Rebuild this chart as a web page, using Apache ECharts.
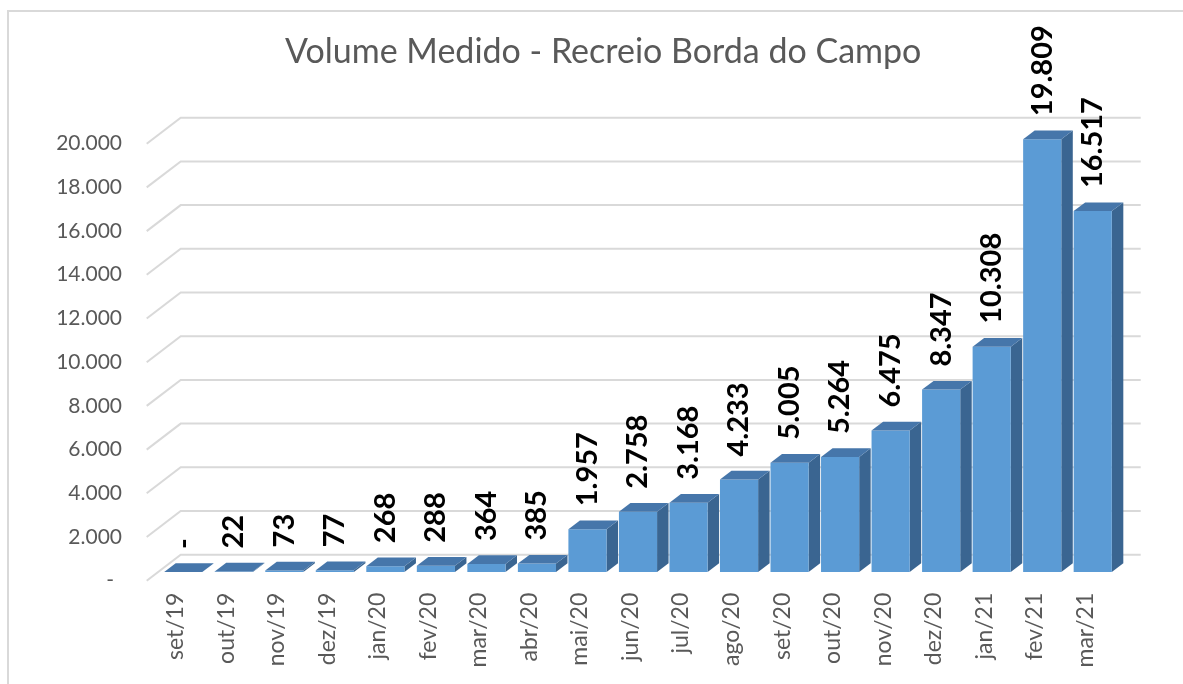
<!DOCTYPE html>
<html>
<head>
<meta charset="utf-8">
<script src="https://cdn.jsdelivr.net/npm/echarts@6/dist/echarts.min.js"></script>
<style>
html,body{margin:0;padding:0;background:#fff;}
#chart{width:1183px;height:684px;}
</style>
</head>
<body>
<div id="chart"></div>
<script>
const categories = ['set/19','out/19','nov/19','dez/19','jan/20','fev/20','mar/20','abr/20','mai/20','jun/20','jul/20','ago/20','set/20','out/20','nov/20','dez/20','jan/21','fev/21','mar/21'];
const volumes = [0,22,73,77,268,288,364,385,1957,2758,3168,4233,5005,5264,6475,8347,10308,19809,16517];
const yTicks = [0,2000,4000,6000,8000,10000,12000,14000,16000,18000,20000];
const titleText = 'Volume Medido - Recreio Borda do Campo';

const FONT = 'Lato, "Open Sans", sans-serif';
// 3D geometry (pixels)
const BAR_DX = 11.5, BAR_DY = 8.7;        // bar depth
const FRONT_DX = -11.3, FRONT_DY = 8.7;   // from bar plane to front plane
const BACK_DX = 22.7, BACK_DY = -17.3;    // from bar plane to back wall

function fmt(v){
  if (v === 0) return '-';
  return String(Math.round(v)).replace(/\B(?=(\d{3})+(?!\d))/g, '.');
}

const chart = echarts.init(document.getElementById('chart'), null, {renderer:'canvas'});

const option = {
  animation: false,
  backgroundColor: '#ffffff',
  title: {
    text: titleText,
    left: 280,
    top: 30,
    textStyle: {fontFamily: FONT, fontSize: 34, fontWeight: 'normal', color: '#595959'}
  },
  graphic: [{
    type: 'rect', silent: true, z: -10,
    shape: {x: 8, y: 11, width: 1200, height: 700},
    style: {fill: 'none', stroke: '#D9D9D9', lineWidth: 2}
  }],
  grid: [
    {left: 158, width: 960, top: 135, bottom: 112, containLabel: false},
    {left: 150.5, width: 960, top: 143.3, bottom: 103.3, containLabel: false}
  ],
  xAxis: [
    {type: 'category', gridIndex: 0, data: categories, show: false},
    {type: 'category', gridIndex: 1, data: categories,
     axisLine: {show: false}, axisTick: {show: false},
     axisLabel: {rotate: 90, margin: 12, interval: 0, color: '#595959', fontFamily: FONT, fontSize: 23}}
  ],
  yAxis: [
    {type: 'value', gridIndex: 0, min: 0, max: 20000, interval: 2000, show: false},
    {type: 'value', gridIndex: 1, min: 0, max: 20000, interval: 2000,
     axisLine: {show: false}, axisTick: {show: false}, splitLine: {show: false},
     axisLabel: {margin: 28.5, color: '#595959', fontFamily: FONT, fontSize: 21,
       formatter: function(v){ return v === 0 ? '{d|-}' : fmt(v); },
       rich: {d: {padding: [0, 8, 0, 0], color: '#595959', fontFamily: FONT, fontSize: 21}}}}
  ],
  series: [
    {
      type: 'custom', xAxisIndex: 0, yAxisIndex: 0, z: 1, silent: true,
      data: yTicks.map(v => [0, v]),
      renderItem: function(params, api){
        const cs = params.coordSys;
        const y = api.coord([0, api.value(1)])[1];
        const xL = cs.x, xR = cs.x + cs.width;
        return {
          type: 'polyline',
          shape: {points: [
            [xL + FRONT_DX, y + FRONT_DY],
            [xL + BACK_DX, y + BACK_DY],
            [xR + BACK_DX, y + BACK_DY]
          ]},
          style: {stroke: '#D9D9D9', lineWidth: 2, fill: null}
        };
      }
    },
    {
      type: 'custom', xAxisIndex: 0, yAxisIndex: 0, z: 5, silent: true,
      data: volumes.map((v, i) => [i, v]),
      renderItem: function(params, api){
        const i = api.value(0), v = api.value(1);
        const p0 = api.coord([i, 0]);
        const p1 = api.coord([i, v]);
        const bw = api.size([1, 0])[0] * 0.755;
        const l = p0[0] - bw / 2, r = p0[0] + bw / 2;
        const yb = p0[1], yt = p1[1];
        const children = [];
        children.push({type: 'polygon', shape: {points: [[r, yb], [r, yt], [r + BAR_DX, yt - BAR_DY], [r + BAR_DX, yb - BAR_DY]]},
          style: {fill: '#3A6591'}});
        children.push({type: 'rect', shape: {x: l, y: yt, width: bw, height: yb - yt},
          style: {fill: '#5B9BD5'}});
        children.push({type: 'polygon', shape: {points: [[l, yt], [r, yt], [r + BAR_DX, yt - BAR_DY], [l + BAR_DX, yt - BAR_DY]]},
          style: {fill: '#4676AA'}});
        children.push({type: 'text', x: p0[0], y: yt - 23, rotation: Math.PI / 2,
          style: {text: fmt(v), fill: '#000000', font: 'bold 29px ' + FONT, align: 'left', verticalAlign: 'middle'}});
        return {type: 'group', children: children};
      }
    }
  ]
};
chart.setOption(option);
</script>
</body>
</html>
